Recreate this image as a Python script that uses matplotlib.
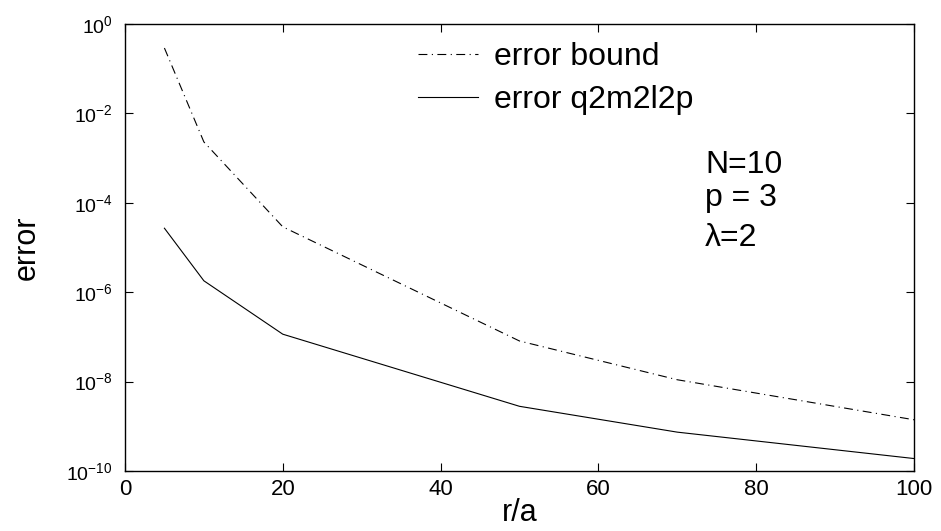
import matplotlib
matplotlib.use("Agg")
import matplotlib.pyplot as plt
from matplotlib.ticker import FixedLocator, LogFormatterSciNotation, NullLocator

plt.rcParams["font.family"] = ["Liberation Sans", "DejaVu Sans"]
plt.rcParams["mathtext.fontset"] = "custom"
plt.rcParams["mathtext.rm"] = "Liberation Sans"
plt.rcParams["mathtext.it"] = "Liberation Sans:italic"

# data
r_over_a = [5, 10, 20, 50, 70, 100]
error_bound = [2.9e-1, 2.3e-3, 2.9e-5, 8.1e-8, 1.1e-8, 1.4e-9]
error_q2m2l2p = [2.7e-5, 1.8e-6, 1.15e-7, 2.8e-9, 7.4e-10, 1.9e-10]
x_ticks = [0, 20, 40, 60, 80, 100]
y_ticks = [1e-10, 1e-8, 1e-6, 1e-4, 1e-2, 1e0]
params = ["N=10", "p = 3", "\u03bb=2"]

fig = plt.figure(figsize=(9.41, 5.31), dpi=100)
ax = fig.add_axes([0.1328, 0.1130, 0.8385, 0.8418])

ax.semilogy(r_over_a, error_bound, color="black", lw=0.8,
            dashes=(8, 4, 1, 4), label="error bound")
ax.semilogy(r_over_a, error_q2m2l2p, color="black", lw=0.8,
            label="error q2m2l2p")

ax.set_xlim(0, 100)
ax.set_ylim(1e-10, 1e0)
ax.xaxis.set_major_locator(FixedLocator(x_ticks))
ax.yaxis.set_major_locator(FixedLocator(y_ticks))
ax.yaxis.set_major_formatter(LogFormatterSciNotation())
ax.yaxis.set_minor_locator(NullLocator())

ax.tick_params(which="both", direction="in", top=True, right=True,
               length=5.5, width=0.8)
ax.tick_params(axis="x", labelsize=16, pad=6)
ax.tick_params(axis="y", labelsize=14, pad=9)
for s in ax.spines.values():
    s.set_linewidth(1.0)

ax.set_xlabel("r/a", fontsize=22, va="top")
ax.set_ylabel("error", fontsize=22)
ax.xaxis.set_label_coords(0.5, -0.06)
ax.yaxis.set_label_coords(-0.105, 0.5)

ax.legend(frameon=False, loc="upper left", bbox_to_anchor=(0.444, 0.92),
          bbox_transform=fig.transFigure, fontsize=23, handlelength=1.9,
          handletextpad=0.5, labelspacing=0.4, borderpad=0, borderaxespad=0)

for txt, yy in zip(params, [0.667, 0.593, 0.503]):
    ax.text(0.735, yy, txt, transform=ax.transAxes, fontsize=23,
            va="baseline", ha="left")

fig.savefig("out.png", dpi=100)
